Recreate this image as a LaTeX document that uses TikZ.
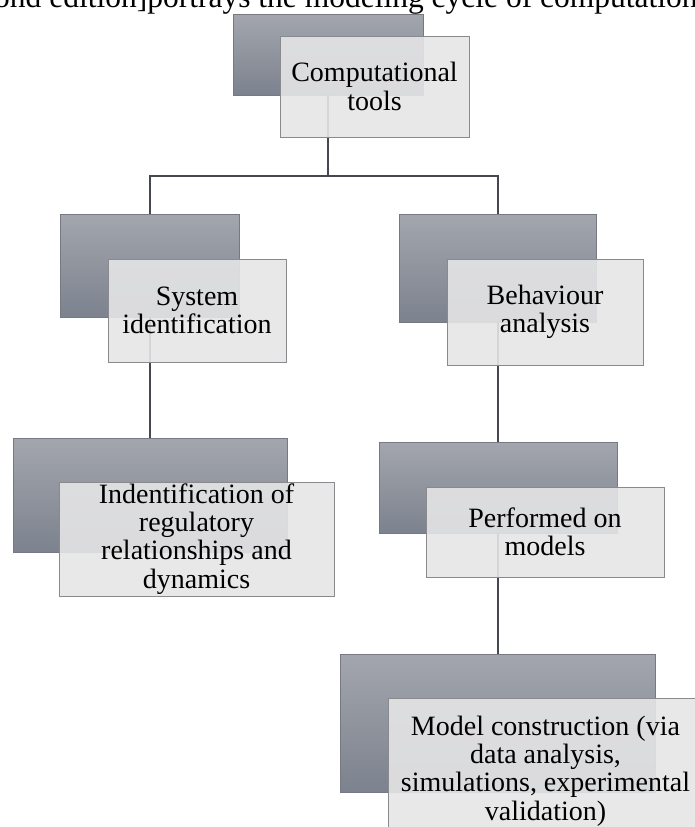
\documentclass[tikz,border=0pt]{standalone}
\usepackage{fontspec}
\setmainfont{Liberation Serif}

\definecolor{darktop}{RGB}{163,166,173}
\definecolor{darkbot}{RGB}{124,130,142}
\definecolor{darkedge}{RGB}{118,121,130}
\definecolor{paleface}{RGB}{229,229,230}
\definecolor{paleedge}{RGB}{138,138,142}
\definecolor{linkgray}{RGB}{70,72,80}

\tikzset{
  backbox/.style={draw=darkedge, line width=0.8pt, top color=darktop, bottom color=darkbot, inner sep=0pt, outer sep=0pt},
  frontbox/.style={draw=paleedge, line width=1pt, fill=paleface, fill opacity=0.9, text opacity=1, inner sep=0pt, outer sep=0pt, anchor=north west, align=center, font=\fontsize{28}{28.3}\selectfont},
  link/.style={draw=linkgray, line width=1.2pt}
}

\begin{document}
\begin{tikzpicture}[x=1pt,y=-1pt]
  \useasboundingbox (0,0) rectangle (695,827);

  % line of running text cut by the top edge
  \node[anchor=base west, inner sep=0pt, font=\fontsize{31.5}{31.5}\selectfont] (caption) at (-6,7) {ond edition]portrays the modeling cycle of computation};

  % Back boxes
  \node[backbox, minimum width=190pt, minimum height=81pt] (tools) at (328,54.5) {};
  \node[backbox, minimum width=179pt, minimum height=103pt] (sysid) at (150,265.5) {};
  \node[backbox, minimum width=197pt, minimum height=108pt] (behav) at (498,268) {};
  \node[backbox, minimum width=274pt, minimum height=114pt] (regul) at (150,495) {};
  \node[backbox, minimum width=238pt, minimum height=91pt] (perf) at (498,487.5) {};
  \node[backbox, minimum width=315pt, minimum height=138pt] (model) at (498,723) {};

  % Connectors
  \coordinate (bus) at (328,176);
  \draw[link] (tools.south) -- (bus);
  \draw[link] (sysid.north) |- (bus) -| (behav.north);
  \draw[link] (sysid.south) -- (regul.north);
  \draw[link] (behav.south) -- (perf.north);
  \draw[link] (perf.south) -- (model.north);

  % Front boxes with the labels
  \node[frontbox, minimum width=189pt, minimum height=101pt] (tools-txt) at (280,36) {Computational\\tools};
  \node[frontbox, minimum width=178pt, minimum height=103pt] (sysid-txt) at (108,259) {System\\identification};
  \node[frontbox, minimum width=196pt, minimum height=106pt] (behav-txt) at (447,259) {Behaviour\\analysis};
  \node[frontbox, minimum width=275pt, minimum height=114pt] (regul-txt) at (59,482) {Indentification of\\regulatory\\relationships and\\dynamics};
  \node[frontbox, minimum width=238pt, minimum height=90pt] (perf-txt) at (426,487) {Performed on\\models};
  \node[frontbox, minimum width=315pt, minimum height=146pt] (model-txt) at (388,698) {Model construction (via\\data analysis,\\simulations, experimental\\validation)};
\end{tikzpicture}
\end{document}
